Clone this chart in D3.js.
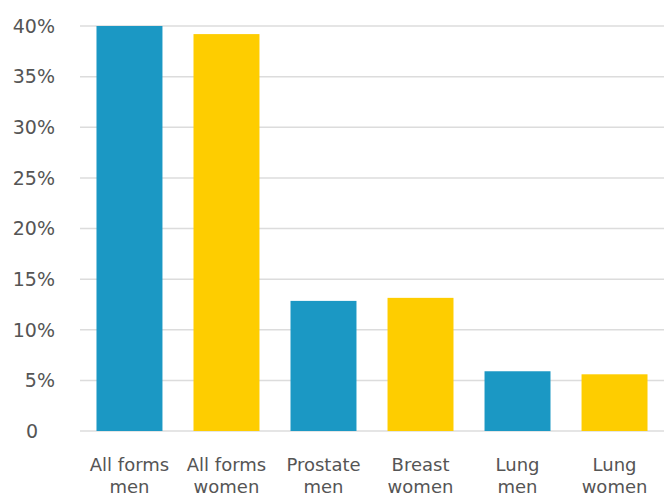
<!DOCTYPE html>
<html><head><meta charset="utf-8">
<script src="https://cdn.jsdelivr.net/npm/d3@7"></script>
<style>
html,body{margin:0;padding:0;background:#fff;}
text{font-family:"DejaVu Sans",sans-serif;fill:#555;}
</style></head>
<body><svg id="c" width="664" height="497"></svg>
<script>
const categories = ["All forms|men","All forms|women","Prostate|men","Breast|women","Lung|men","Lung|women"];
const values = [40, 39.2, 12.85, 13.15, 5.9, 5.6];
const groups = ["men","women","men","women","men","women"];
const yTicks = [0,5,10,15,20,25,30,35,40];
const yTickLabels = ["0","5%","10%","15%","20%","25%","30%","35%","40%"];
const colors = {men:"#1b98c4", women:"#fecd00"};

(function(){
const svg = d3.select("#c");
const mLeft = 80, mRight = 664, mTop = 26, mBottom = 431;
const x = d3.scaleBand().domain(categories).range([mLeft, mRight]).paddingInner(0.32).paddingOuter(0.17);
const y = d3.scaleLinear().domain([0, 40]).range([mBottom, mTop]);

svg.append("g").selectAll("line").data(yTicks).join("line")
  .attr("x1", mLeft).attr("x2", mRight)
  .attr("y1", d => y(d)).attr("y2", d => y(d))
  .attr("stroke", "#dcdcdc").attr("stroke-width", 1.5);

svg.append("g").selectAll("text").data(yTicks).join("text")
  .attr("x", 55).attr("y", d => y(d))
  .attr("dx", d => d === 0 ? -17 : 0)
  .attr("dy", "0.36em").attr("text-anchor", "end")
  .style("font-size", "19px")
  .text((d,i) => yTickLabels[i]);

svg.append("g").selectAll("rect").data(categories).join("rect")
  .attr("x", d => x(d)).attr("width", x.bandwidth())
  .attr("y", (d,i) => y(values[i]))
  .attr("height", (d,i) => y(0) - y(values[i]))
  .attr("fill", (d,i) => colors[groups[i]]);

const xg = svg.append("g");
categories.forEach(d => {
  d.split("|").forEach((p, k) => {
    xg.append("text").attr("text-anchor", "middle").style("font-size", "18px")
      .attr("x", x(d) + x.bandwidth()/2).attr("y", 471 + k*22).text(p);
  });
});
})();
</script></body></html>
